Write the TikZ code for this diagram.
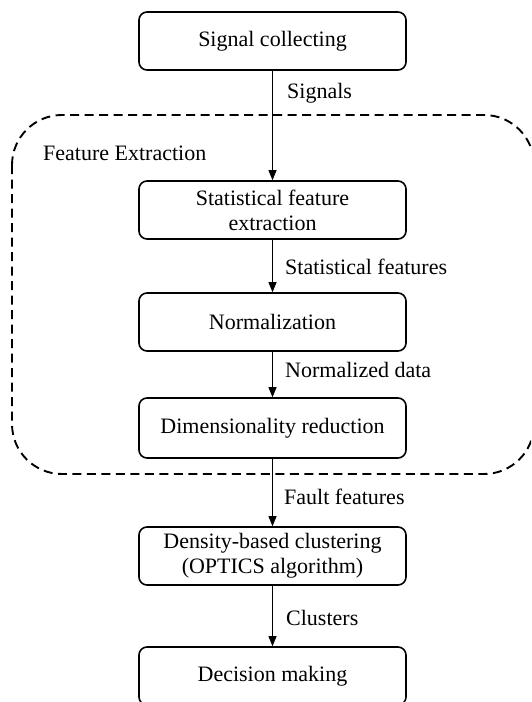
\documentclass[tikz,border=0pt]{standalone}
\usepackage{fontspec}
\setmainfont{Liberation Serif}
\usetikzlibrary{arrows.meta}
\begin{document}
\begin{tikzpicture}[x=1pt,y=-1pt,
  stepbox/.style={draw, line width=1.6pt, rounded corners=8pt, minimum width=267pt, minimum height=58pt, align=center, font=\fontsize{22}{25}\selectfont, inner sep=0pt},
  lbl/.style={anchor=west, font=\fontsize{22}{25}\selectfont, inner sep=0pt},
  flow/.style={-{Triangle[length=10pt,width=8pt]}, line width=0.9pt},
  group/.style={draw, line width=1.9pt, dash pattern=on 9pt off 5.5pt, rounded corners=50pt}]
\useasboundingbox (0,0) rectangle (531,702);
\clip (0,0) rectangle (531,702);
\draw[group] (12,115) rectangle (534,474);
\node[lbl] (fe) at (43,153) {Feature Extraction};
\node[stepbox] (b1) at (272.5,41) {Signal collecting};
\node[stepbox] (b2) at (272.5,210) {Statistical feature\\extraction};
\node[stepbox] (b3) at (272.5,322) {Normalization};
\node[stepbox, minimum height=60pt] (b4) at (272.5,428) {Dimensionality reduction};
\node[stepbox] (b5) at (272.5,556) {Density-based clustering\\(OPTICS algorithm)};
\node[stepbox] (b6) at (272.5,676) {Decision making};
\draw[flow] (b1) -- (b2);
\draw[flow] (b2) -- (b3);
\draw[flow] (b3) -- (b4);
\draw[flow] (b4) -- (b5);
\draw[flow] (b5) -- (b6);
\node[lbl] (l1) at (287,93) {Signals};
\node[lbl] (l2) at (285,267) {Statistical features};
\node[lbl] (l3) at (285,370) {Normalized data};
\node[lbl] (l4) at (284,497) {Fault features};
\node[lbl] (l5) at (286,618) {Clusters};
\end{tikzpicture}
\end{document}
